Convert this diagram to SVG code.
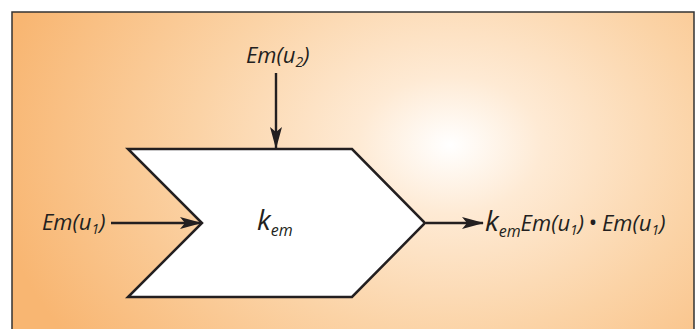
<svg xmlns="http://www.w3.org/2000/svg" width="696" height="329" viewBox="0 0 696 329">
<defs>
<radialGradient id="bg" gradientUnits="userSpaceOnUse" cx="450" cy="145" r="460" gradientTransform="translate(450 145) scale(1 0.75) translate(-450 -145)">
<stop offset="0" stop-color="#FFFFFF"/>
<stop offset="0.2" stop-color="#FEEAD4"/>
<stop offset="0.55" stop-color="#FBD3A6"/>
<stop offset="1" stop-color="#F8B672"/>
</radialGradient>
<marker id="ah" viewBox="0 0 22 12" refX="21" refY="6" markerWidth="22" markerHeight="12" markerUnits="userSpaceOnUse" orient="auto">
<path d="M0,0 L22,6 L0,12 L5,6 Z" fill="#231F20"/>
</marker>
<style>
.t{font-family:"Open Sans","Liberation Sans",sans-serif;font-style:italic;font-size:22px;fill:#231F20}
.s{font-size:14px}
.c{stroke:#231F20;stroke-width:2.4;fill:none}
</style>
</defs>
<rect x="0" y="0" width="696" height="329" fill="#FFFFFF"/>
<rect x="12" y="12" width="682" height="330" fill="url(#bg)" stroke="#333333" stroke-width="1.5"/>
<g id="block">
<polygon points="128,149 352,149 425,223 352,297 128,297 202,223" fill="#FFFFFF" stroke="#231F20" stroke-width="2.5" stroke-linejoin="miter"/>
<text class="t" x="257" y="230"><tspan font-size="28">k</tspan><tspan font-size="16" dy="6">em</tspan></text>
</g>
<g id="in1">
<text class="t" x="42" y="230">Em(u<tspan class="s" dy="4">1</tspan><tspan dy="-4">)</tspan></text>
</g>
<g id="in2">
<text class="t" x="246" y="63">Em(u<tspan class="s" dy="4">2</tspan><tspan dy="-4">)</tspan></text>
</g>
<g id="out">
<text class="t" x="485" y="231"><tspan font-size="28">k</tspan><tspan font-size="16" dy="6">em</tspan><tspan dy="-6">Em(u</tspan><tspan class="s" dy="4">1</tspan><tspan dy="-4">) </tspan><tspan font-style="normal" font-weight="bold" font-size="17" dy="-2">•</tspan><tspan dy="2"> Em(u</tspan><tspan class="s" dy="4">1</tspan><tspan dy="-4">)</tspan></text>
</g>
<g id="connectors">
<line class="c" x1="111" y1="223" x2="201" y2="223" marker-end="url(#ah)"/>
<line class="c" x1="276" y1="73" x2="276" y2="148" marker-end="url(#ah)"/>
<line class="c" x1="426" y1="223" x2="483" y2="223" marker-end="url(#ah)"/>
</g>
</svg>
